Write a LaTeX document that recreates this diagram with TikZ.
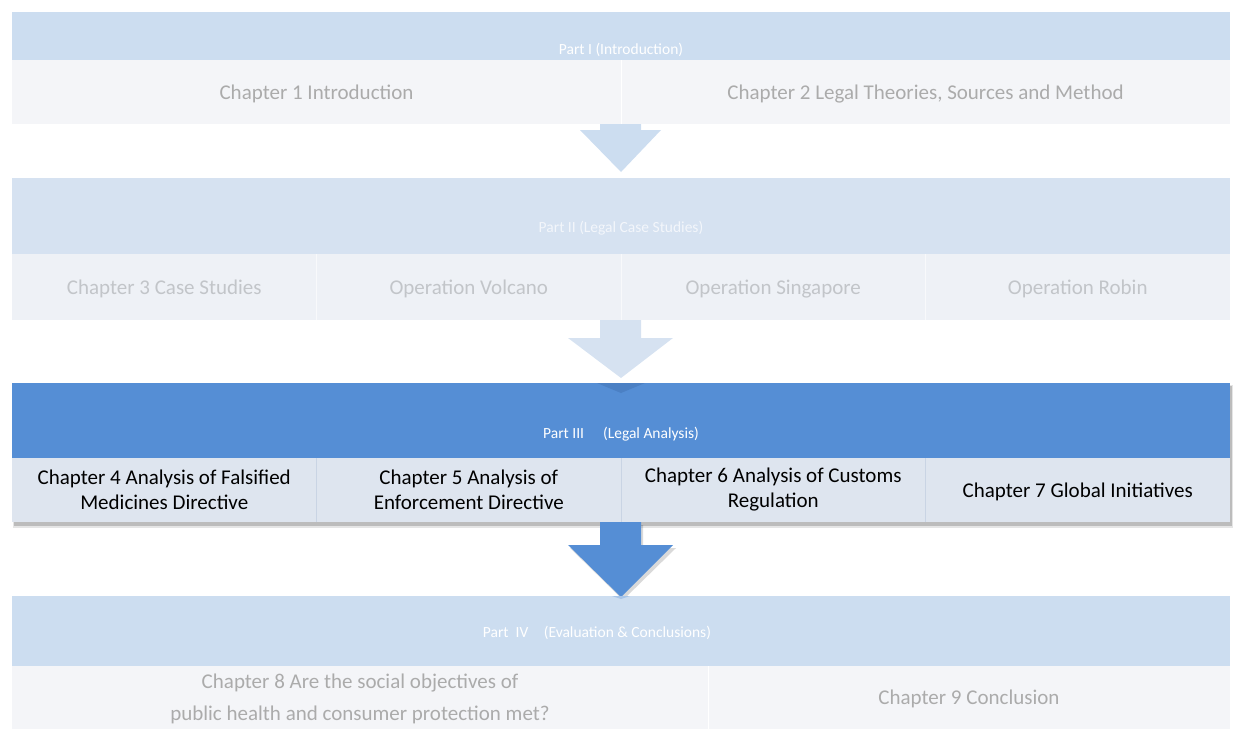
\documentclass[tikz,border=0pt]{standalone}
\usepackage{fontspec}
\setmainfont{Carlito}
\usepackage{tikz}
\usetikzlibrary{positioning, shadows}

\definecolor{paleblue}{HTML}{CCDDF0}
\definecolor{palerblue}{HTML}{D6E2F1}
\definecolor{midblue}{HTML}{558ED5}
\definecolor{deepblue}{HTML}{4B80C4}
\definecolor{rowgrey}{HTML}{F4F5F8}
\definecolor{rowgreyii}{HTML}{EEF1F6}
\definecolor{rowblue}{HTML}{DEE5EF}
\definecolor{rowline}{HTML}{C9D4E4}
\definecolor{fadetext}{HTML}{ABABAB}
\definecolor{fadertext}{HTML}{C2C5C9}

\tikzset{
  hdr/.style={rectangle, anchor=north west, inner sep=0pt, outer sep=0pt,
    minimum width=1218pt},
  cell/.style={rectangle, inner sep=0pt, outer sep=0pt, align=center,
    minimum height=64pt, font=\fontsize{21}{25}\selectfont},
  lowtext/.style={text depth=0pt},
  partlbl/.style={inner sep=0pt, text=white, font=\fontsize{15.5}{17}\selectfont},
}

\begin{document}
\begin{tikzpicture}[x=1pt, y=-1pt]
\useasboundingbox (0,0) rectangle (1234,729);

% Part I
\node[hdr, fill=paleblue, minimum height=48pt,
  drop shadow={opacity=0.06, shadow xshift=0pt, shadow yshift=-2pt}] (p1) at (12,12) {};
\node[cell, lowtext, fill=rowgrey, text=fadetext, minimum width=609pt, anchor=north west] (ch1) at (p1.south west) {Chapter 1 Introduction};
\node[cell, lowtext, fill=rowgrey, text=fadetext, minimum width=609pt, right=0pt of ch1] (ch2) {Chapter 2 Legal Theories, Sources and Method};
\draw[white, line width=0.8pt] (ch1.north east) -- (ch1.south east);
\node[partlbl] (p1lbl) at (621,50) {Part I (Introduction)};

\fill[paleblue] (600,124) -- (641,124) -- (641,130) -- (661,130) -- (621,172) -- (580,130) -- (600,130) -- cycle;

% Part II
\node[hdr, fill=palerblue, minimum height=76pt,
  drop shadow={opacity=0.06, shadow xshift=0pt, shadow yshift=-2pt}] (p2) at (12,178) {};
\node[cell, lowtext, fill=rowgreyii, text=fadertext, minimum width=304.5pt, minimum height=66pt, anchor=north west] (ch3) at (p2.south west) {Chapter 3 Case Studies};
\node[cell, lowtext, fill=rowgreyii, text=fadertext, minimum width=304.5pt, minimum height=66pt, right=0pt of ch3] (volcano) {Operation Volcano};
\node[cell, lowtext, fill=rowgreyii, text=fadertext, minimum width=304.5pt, minimum height=66pt, right=0pt of volcano] (singapore) {Operation Singapore};
\node[cell, lowtext, fill=rowgreyii, text=fadertext, minimum width=304.5pt, minimum height=66pt, right=0pt of singapore] (robin) {Operation Robin};
\foreach \c in {ch3, volcano, singapore}
  \draw[white!60!rowgreyii, line width=0.8pt] (\c.north east) -- (\c.south east);
\node[partlbl, text=white!70!palerblue] (p2lbl) at (621,228) {Part II (Legal Case Studies)};

\fill[palerblue] (600,320) -- (641,320) -- (641,338) -- (673,338) -- (621,378) -- (568,338) -- (600,338) -- cycle;

% Part III
\fill[black, opacity=0.18] (14,386) rectangle (1232,526);
\fill[black, opacity=0.10] (13,385) rectangle (1233,528);
\node[hdr, fill=midblue, minimum height=75pt] (p3) at (12,383) {};
\node[cell, fill=rowblue, minimum width=304.5pt, anchor=north west] (ch4) at (p3.south west) {Chapter 4 Analysis of Falsified\\Medicines Directive};
\node[cell, fill=rowblue, minimum width=304.5pt, right=0pt of ch4] (ch5) {Chapter 5 Analysis of\\Enforcement Directive};
\node[cell, fill=rowblue, minimum width=304.5pt, right=0pt of ch5] (ch6) {Chapter 6 Analysis of Customs\\Regulation};
\node[cell, lowtext, fill=rowblue, minimum width=304.5pt, right=0pt of ch6] (ch7) {Chapter 7 Global Initiatives};
\foreach \c in {ch4, ch5, ch6}
  \draw[rowline, line width=1pt] (\c.north east) -- (\c.south east);
\node[partlbl] (p3lbl) at (621,434) {Part III\quad\ (Legal Analysis)};
\fill[deepblue] (597,383) -- (645,383) -- (621,393) -- cycle;

\fill[black, opacity=0.15] (602,525) -- (643,525) -- (643,548) -- (676,548) -- (623,600) -- (570,548) -- (602,548) -- cycle;
\fill[midblue] (600,522) -- (641,522) -- (641,545) -- (673,545) -- (621,597) -- (568,545) -- (600,545) -- cycle;

% Part IV
\node[hdr, fill=paleblue, minimum height=70pt] (p4) at (12,596) {};
\node[cell, lowtext, fill=rowgrey, text=fadetext, minimum width=696pt, minimum height=63pt, anchor=north west] (ch8) at (p4.south west) {Chapter 8 Are the social objectives of\\[7pt]public health and consumer protection met?};
\node[cell, lowtext, fill=rowgrey, text=fadetext, minimum width=522pt, minimum height=63pt, right=0pt of ch8] (ch9) {Chapter 9 Conclusion};
\draw[white, line width=0.8pt] (ch8.north east) -- (ch8.south east);
\node[partlbl] (p4lbl) at (597,633) {Part\ \ IV\quad(Evaluation \& Conclusions)};
\fill[paleblue!70!midblue] (612,596) -- (630,596) -- (621,599) -- cycle;
\end{tikzpicture}
\end{document}
